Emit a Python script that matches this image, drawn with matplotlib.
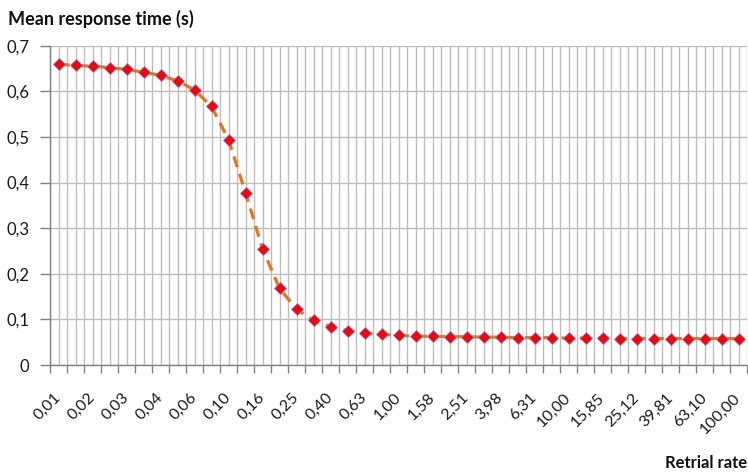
import matplotlib
matplotlib.use("Agg")
import matplotlib.pyplot as plt
import numpy as np
from matplotlib.ticker import FixedLocator, FixedFormatter

plt.rcParams['font.family'] = ['Lato', 'DejaVu Sans']

# 41 categories: retrial rate from 0.01 to 100 in 0.1-decade steps
rate_labels = ["0,01", "0,02", "0,03", "0,04", "0,06", "0,10", "0,16", "0,25", "0,40",
               "0,63", "1,00", "1,58", "2,51", "3,98", "6,31", "10,00", "15,85", "25,12",
               "39,81", "63,10", "100,00"]
response_time = [0.659, 0.657, 0.655, 0.652, 0.648, 0.642, 0.635, 0.623, 0.603, 0.567,
                 0.494, 0.378, 0.255, 0.168, 0.122, 0.098, 0.084, 0.075, 0.070, 0.067,
                 0.065, 0.063, 0.063, 0.062, 0.062, 0.061, 0.061, 0.060, 0.060, 0.060,
                 0.059, 0.059, 0.059, 0.058, 0.058, 0.058, 0.058, 0.058, 0.058, 0.058,
                 0.058]
y_ticks = [0, 0.1, 0.2, 0.3, 0.4, 0.5, 0.6, 0.7]
y_tick_labels = ["0", "0,1", "0,2", "0,3", "0,4", "0,5", "0,6", "0,7"]

n = len(response_time)
x = np.arange(n)

fig = plt.figure(figsize=(7.48, 4.73), dpi=100)
ax = fig.add_axes([50/748, 1-365/473, 697/748, (365-45.7)/473])

ax.plot(x, response_time, color='#E8731A', linewidth=2.3, linestyle=(0, (3.5, 2.2)),
        zorder=3)
ax.plot(x, response_time, linestyle='none', marker='D', markersize=6.5,
        markerfacecolor='#FF0000', markeredgecolor='#7A7AD0', markeredgewidth=0.6,
        zorder=4)

ax.set_xlim(-0.5, n - 0.5)
ax.set_ylim(0, 0.7)

# major x ticks at category boundaries (tick marks), minor at centers (labels)
ax.xaxis.set_major_locator(FixedLocator(np.arange(-0.5, n, 1.0)))
ax.xaxis.set_major_formatter(FixedFormatter([""] * (n + 1)))
ax.xaxis.set_minor_locator(FixedLocator(x))
minor_labels = []
for i in range(n):
    minor_labels.append(rate_labels[i // 2] if i % 2 == 0 else "")
ax.xaxis.set_minor_formatter(FixedFormatter(minor_labels))
ax.tick_params(axis='x', which='major', length=6, color='#808080', width=1)
ax.tick_params(axis='x', which='minor', length=0, pad=22, labelsize=11.5, labelcolor='#1a1a1a')
for lab in ax.get_xticklabels(minor=True):
    lab.set_rotation(45)
    lab.set_ha('right')
    lab.set_va('center')
    lab.set_rotation_mode('anchor')

ax.set_yticks(y_ticks)
ax.set_yticklabels(y_tick_labels)
ax.tick_params(axis='y', length=7, color='#808080', width=1, pad=8, labelsize=12,
               labelcolor='#1a1a1a')

ax.grid(True, which='major', axis='both', color='#BDBDBD', linewidth=1)
ax.grid(True, which='minor', axis='x', color='#BDBDBD', linewidth=1)
ax.set_axisbelow(True)

for s in ['top', 'right']:
    ax.spines[s].set_visible(False)
for s in ['left', 'bottom']:
    ax.spines[s].set_color('#808080')
    ax.spines[s].set_linewidth(1)

fig.text(8/748, 1-19/473, "Mean response time (s)", fontsize=13, fontweight='bold',
         ha='left', va='center', color='#111111')
fig.text(747/748, 1-463/473, "Retrial rate", fontsize=12, fontweight='bold',
         ha='right', va='center', color='#111111')

fig.savefig("out.png", dpi=100)
